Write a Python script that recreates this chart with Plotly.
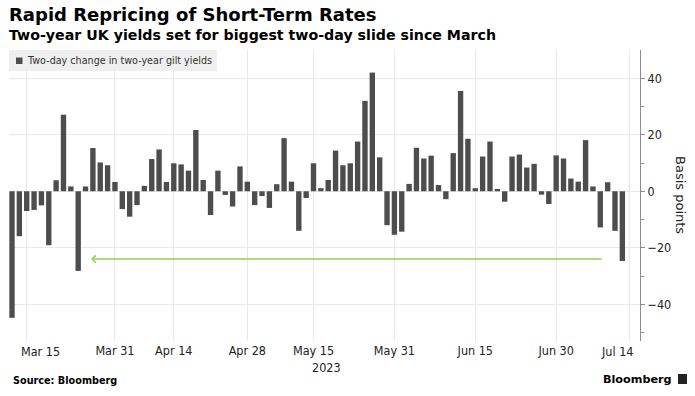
import pandas as pd
import plotly.graph_objects as go

# ---------------- data ----------------
uk_holidays = ["2023-04-07", "2023-04-10", "2023-05-01", "2023-05-08", "2023-05-29"]
trading_days = pd.bdate_range("2023-03-13", "2023-07-13", freq="C", holidays=uk_holidays)

two_day_change = [
    -44.8, -15.9, -7.0, -6.6, -5.0, -19.1, 3.9, 27.1, 1.7, -28.2,
    1.7, 15.3, 10.2, 9.2, 3.3, -6.3, -9.0, -4.9, 1.9, 11.4,
    14.8, 3.3, 9.9, 9.5, 7.3, 21.7, 4.0, -8.4, 7.3, -1.3,
    -5.4, 8.8, 3.4, -4.9, -1.7, -5.9, 2.5, 18.8, 3.4, -14.0,
    -2.4, 9.9, 1.1, 4.0, 14.4, 9.2, 9.9, 17.6, 32.0, 42.0,
    12.0, -12.0, -15.4, -14.3, 2.6, 15.4, 11.6, 12.6, 2.2, -2.8,
    13.5, 35.5, 18.6, 1.1, 12.3, 17.6, 0.8, -3.7, 12.3, 13.0,
    8.4, 9.7, -1.2, -4.5, 12.7, 11.6, 4.5, 3.4, 18.1, 1.7,
    -12.8, 3.2, -14.0, -24.7,
]

tick_dates = ["2023-03-15", "2023-03-31", "2023-04-14", "2023-04-28", "2023-05-15",
              "2023-05-31", "2023-06-15", "2023-06-30", "2023-07-14"]
tick_labels = ["Mar 15", "Mar 31", "Apr 14", "Apr 28", "May 15",
               "May 31", "Jun 15", "Jun 30", "Jul 14"]
year_label = "2023"
y_ticks = [-40, -20, 0, 20, 40]
y_minor_ticks = [-50, -30, -10, 10, 30]

arrow_level = -24
arrow_tip = "2023-03-28 06:00"
arrow_tail = "2023-07-10 21:36"

series_name = "Two-day change in two-year gilt yields"
title = "Rapid Repricing of Short-Term Rates"
subtitle = "Two-year UK yields set for biggest two-day slide since March"

# ---------------- figure ----------------
half_day = pd.Timedelta(hours=12)
bar_x = trading_days + half_day
tick_x = pd.to_datetime(tick_dates) + half_day

W, H = 695, 396
ML, MR, MT, MB = 9, 55, 50, 55
PW, PH = W - ML - MR, H - MT - MB


def px_x(px):
    return (px - ML) / PW


def px_y(py):
    return (H - MB - py) / PH


BAR = "#4d4d4d"
GRID = "#e9e9e9"
AXIS = "#8c8c8c"
TEXT = "#222222"
COND = "DejaVu Sans Condensed, DejaVu Sans, sans-serif"
BOLD = "DejaVu Sans, sans-serif"

fig = go.Figure(
    go.Bar(
        x=bar_x,
        y=two_day_change,
        name=series_name,
        marker=dict(color=BAR, line=dict(width=0)),
        width=0.73 * 86400000,
        showlegend=False,
    )
)

fig.update_layout(
    width=W,
    height=H,
    margin=dict(l=ML, r=MR, t=MT, b=MB, autoexpand=False),
    paper_bgcolor="white",
    plot_bgcolor="white",
    font=dict(family=COND, color=TEXT, size=12.5),
)

# first and last labels are nudged inwards (as in the original), so they are
# drawn as separate text; the axis itself keeps all gridlines
shown_labels = [""] + tick_labels[1:-1] + [""]

fig.update_xaxes(
    type="date",
    automargin=False,
    rangebreaks=[dict(bounds=["sat", "mon"]), dict(values=uk_holidays)],
    range=[trading_days[0] + half_day - pd.Timedelta(hours=9.8),
           pd.Timestamp("2023-07-17") + half_day + pd.Timedelta(hours=9.6)],
    tickmode="array",
    tickvals=tick_x,
    ticktext=shown_labels,
    showgrid=True,
    gridcolor=GRID,
    gridwidth=1,
    ticks="",
    showline=False,
    zeroline=False,
    tickfont=dict(family=COND, size=12.5, color=TEXT),
)

fig.update_yaxes(
    side="right",
    automargin=False,
    range=[-53, 50],
    tickmode="array",
    tickvals=y_ticks,
    showgrid=True,
    gridcolor=GRID,
    zeroline=False,
    showline=True,
    linecolor=AXIS,
    linewidth=1,
    ticks="outside",
    ticklen=4,
    tickcolor=AXIS,
    minor=dict(tickmode="array", tickvals=y_minor_ticks, ticks="outside",
               ticklen=3, tickcolor=AXIS, showgrid=False),
    tickfont=dict(family=COND, size=12.5, color=TEXT),
)

tickfont = dict(family=COND, size=12.5, color=TEXT)
fig.add_annotation(xref="paper", yref="paper", x=px_x(40), y=px_y(351.5),
                   xanchor="center", yanchor="middle", showarrow=False,
                   text=tick_labels[0], font=tickfont)
fig.add_annotation(xref="paper", yref="paper", x=px_x(617), y=px_y(351.5),
                   xanchor="center", yanchor="middle", showarrow=False,
                   text=tick_labels[-1], font=tickfont)
fig.add_annotation(xref="paper", yref="paper", x=px_x(326), y=px_y(367),
                   xanchor="center", yanchor="middle", showarrow=False,
                   text=year_label, font=tickfont)

# legend box (manual, Bloomberg style)
fig.add_shape(type="rect", xref="paper", yref="paper",
              x0=px_x(9), x1=px_x(217), y0=px_y(71), y1=px_y(50),
              fillcolor="#efefef", line=dict(width=0), layer="above")
fig.add_shape(type="rect", xref="paper", yref="paper",
              x0=px_x(16), x1=px_x(22.5), y0=px_y(64), y1=px_y(57.5),
              fillcolor=BAR, line=dict(width=0), layer="above")
fig.add_annotation(xref="paper", yref="paper", x=px_x(24.5), y=px_y(61),
                   xanchor="left", yanchor="middle", showarrow=False,
                   text=series_name,
                   font=dict(family="DejaVu Sans, sans-serif", size=9.6, color="#333333"))

# green arrow
fig.add_annotation(x=arrow_tip, y=arrow_level, ax=arrow_tail, ay=arrow_level,
                   xref="x", yref="y", axref="x", ayref="y",
                   showarrow=True, text="", arrowhead=4, arrowsize=1,
                   arrowwidth=1.4, arrowcolor="#8fd14f", standoff=0)

# titles
fig.add_annotation(xref="paper", yref="paper", x=px_x(7), y=px_y(15),
                   xanchor="left", yanchor="middle", showarrow=False,
                   text="<b>" + title + "</b>",
                   font=dict(family=BOLD, size=18, color="#000000"))
fig.add_annotation(xref="paper", yref="paper", x=px_x(7), y=px_y(35),
                   xanchor="left", yanchor="middle", showarrow=False,
                   text="<b>" + subtitle + "</b>",
                   font=dict(family=BOLD, size=14.2, color="#000000"))

# y axis title
fig.add_annotation(xref="paper", yref="paper", x=px_x(681), y=px_y(195),
                   xanchor="center", yanchor="middle", showarrow=False,
                   textangle=90, text="Basis points",
                   font=dict(family="DejaVu Sans, sans-serif", size=13, color=TEXT))

# footer
fig.add_annotation(xref="paper", yref="paper", x=px_x(11), y=px_y(380),
                   xanchor="left", yanchor="middle", showarrow=False,
                   text="<b>Source: Bloomberg</b>",
                   font=dict(family=BOLD, size=9.7, color="#000000"))
fig.add_annotation(xref="paper", yref="paper", x=px_x(674), y=px_y(379),
                   xanchor="right", yanchor="middle", showarrow=False,
                   text="<b>Bloomberg</b>",
                   font=dict(family=BOLD, size=11.2, color="#000000"))
fig.add_shape(type="rect", xref="paper", yref="paper",
              x0=px_x(678), x1=px_x(687), y0=px_y(384), y1=px_y(374),
              fillcolor="#222222", line=dict(width=0))

fig.write_html("out.html", config={"displayModeBar": False},
               post_script="document.body.style.margin='0';document.body.style.overflow='hidden';")
